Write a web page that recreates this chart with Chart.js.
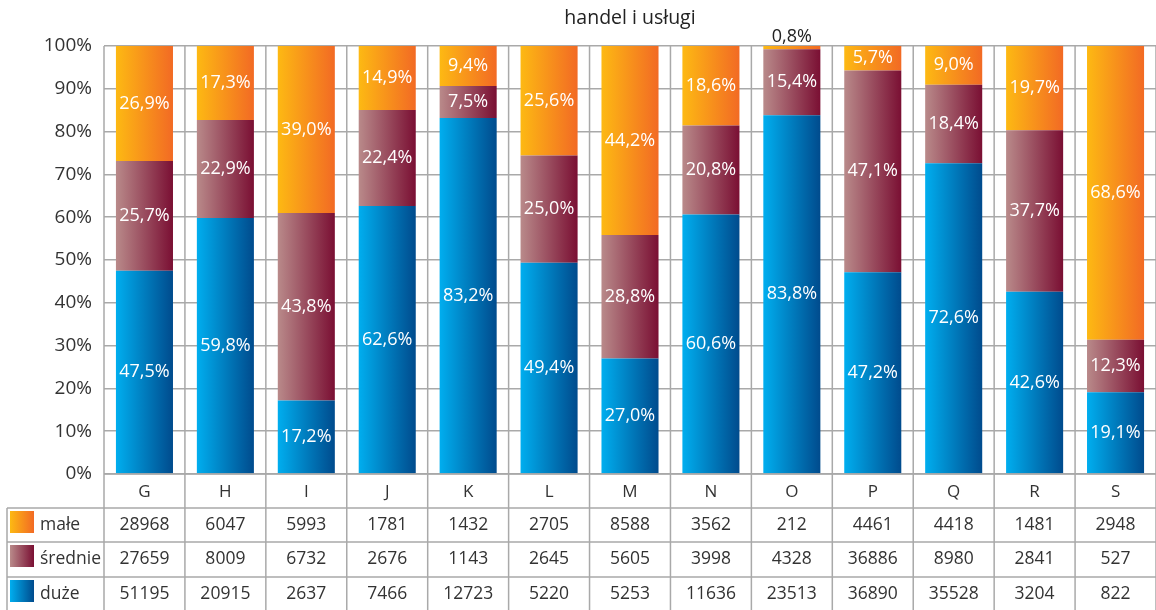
<!DOCTYPE html>
<html>
<head>
<meta charset="utf-8">
<script src="https://cdn.jsdelivr.net/npm/chart.js@4"></script>
<style>
    body { margin: 0; background: #fff; }
    #wrap { width: 1156px; height: 610px; overflow: hidden; }
</style>
</head>
<body>
<div id="wrap"><canvas id="chart" width="1156" height="610"></canvas></div>
<script>
// data
const categories = ['G', 'H', 'I', 'J', 'K', 'L', 'M', 'N', 'O', 'P', 'Q', 'R', 'S'];
const male = [28968, 6047, 5993, 1781, 1432, 2705, 8588, 3562, 212, 4461, 4418, 1481, 2948];
const srednie = [27659, 8009, 6732, 2676, 1143, 2645, 5605, 3998, 4328, 36886, 8980, 2841, 527];
const duze = [51195, 20915, 2637, 7466, 12723, 5220, 5253, 11636, 23513, 36890, 35528, 3204, 822];
const yTicks = [0, 10, 20, 30, 40, 50, 60, 70, 80, 90, 100];
const title = 'handel i usługi';

const FONT = '"Open Sans", "Noto Sans", sans-serif';
const LINE = '#a9a9a9';

const colors = {
    male: ['#fdb913', '#f26a24'],
    srednie: ['#b98a8a', '#7a0f33'],
    duze: ['#00aeef', '#004b8d']
};

const totals = categories.map((c, i) => male[i] + srednie[i] + duze[i]);
const pct = arr => arr.map((v, i) => v / totals[i] * 100);

function fmt(v) {
    return v.toFixed(1).replace('.', ',') + '%';
}

function barGradient(context, pair) {
    const chart = context.chart;
    const xs = chart.scales.x;
    if (!chart.chartArea || !xs) return pair[0];
    const colW = xs.width / categories.length;
    const w = colW * 0.705;
    const cx = xs.getPixelForValue(context.dataIndex);
    const g = chart.ctx.createLinearGradient(cx - w / 2, 0, cx + w / 2, 0);
    g.addColorStop(0, pair[0]);
    g.addColorStop(1, pair[1]);
    return g;
}

const rows = [
    { label: 'małe', values: male, colors: colors.male },
    { label: 'średnie', values: srednie, colors: colors.srednie },
    { label: 'duże', values: duze, colors: colors.duze }
];

const tablePlugin = {
    id: 'tablePlugin',
    beforeDatasetsDraw(chart) {
        const { ctx, chartArea } = chart;
        const colW = (chartArea.right - chartArea.left) / categories.length;
        ctx.save();
        ctx.strokeStyle = LINE;
        ctx.lineWidth = 1.5;
        for (let i = 0; i <= categories.length; i++) {
            const x = chartArea.left + i * colW;
            ctx.beginPath();
            ctx.moveTo(x, chartArea.top);
            ctx.lineTo(x, 610);
            ctx.stroke();
        }
        ctx.restore();
    },
    afterDraw(chart) {
        const { ctx, chartArea } = chart;
        const xs = chart.scales.x;
        ctx.save();

        // title
        ctx.fillStyle = '#222';
        ctx.font = '19.5px ' + FONT;
        ctx.textAlign = 'center';
        ctx.textBaseline = 'middle';
        ctx.fillText(title, (chartArea.left + chartArea.right) / 2, 18);

        // table lines
        ctx.strokeStyle = LINE;
        ctx.lineWidth = 1.5;
        const rowY = [508, 542, 577];
        ctx.beginPath();
        ctx.moveTo(chartArea.left, chartArea.bottom);
        ctx.lineTo(chartArea.right, chartArea.bottom);
        ctx.stroke();
        rowY.forEach(y => {
            ctx.beginPath();
            ctx.moveTo(7, y);
            ctx.lineTo(chartArea.right, y);
            ctx.stroke();
        });
        ctx.beginPath();
        ctx.moveTo(7, rowY[0]);
        ctx.lineTo(7, 610);
        ctx.stroke();

        // categories
        ctx.fillStyle = '#333';
        ctx.font = '17px ' + FONT;
        categories.forEach((c, i) => {
            ctx.fillText(c, xs.getPixelForValue(i), 492);
        });

        // rows
        const centers = [525, 559, 594];
        ctx.font = '17.5px ' + FONT;
        rows.forEach((r, ri) => {
            const y = centers[ri];
            const g = ctx.createLinearGradient(10, 0, 34, 0);
            g.addColorStop(0, r.colors[0]);
            g.addColorStop(1, r.colors[1]);
            ctx.fillStyle = g;
            ctx.fillRect(10, rowY[ri] + 3, 24, 22);
            ctx.fillStyle = '#333';
            ctx.textAlign = 'left';
            ctx.fillText(r.label, 40, y);
            ctx.textAlign = 'center';
            r.values.forEach((v, i) => {
                ctx.fillText(String(v), xs.getPixelForValue(i), y);
            });
        });

        // segment labels
        ctx.font = '18px ' + FONT;
        chart.data.datasets.forEach((ds, di) => {
            const meta = chart.getDatasetMeta(di);
            meta.data.forEach((bar, i) => {
                const v = ds.data[i];
                const h = Math.abs(bar.base - bar.y);
                if (h < 14) {
                    ctx.fillStyle = '#222';
                    ctx.fillText(fmt(v), bar.x, Math.min(bar.y, bar.base) - 9);
                } else {
                    ctx.fillStyle = '#fff';
                    ctx.fillText(fmt(v), bar.x, (bar.y + bar.base) / 2);
                }
            });
        });
        ctx.restore();
    }
};

new Chart(document.getElementById('chart'), {
    type: 'bar',
    data: {
        labels: categories,
        datasets: [
            { label: 'duże', data: pct(duze), backgroundColor: c => barGradient(c, colors.duze) },
            { label: 'średnie', data: pct(srednie), backgroundColor: c => barGradient(c, colors.srednie) },
            { label: 'małe', data: pct(male), backgroundColor: c => barGradient(c, colors.male) }
        ]
    },
    options: {
        responsive: false,
        animation: false,
        layout: { padding: { top: 46, bottom: 136, left: 0, right: 0 } },
        datasets: {
            bar: { categoryPercentage: 1, barPercentage: 0.705, borderWidth: 0 }
        },
        plugins: {
            legend: { display: false },
            tooltip: { enabled: false },
            title: { display: false }
        },
        scales: {
            x: { stacked: true, display: false },
            y: {
                stacked: true,
                min: 0,
                max: 100,
                afterFit: s => { s.width = 104; },
                afterBuildTicks: s => { s.ticks = yTicks.map(v => ({ value: v })); },
                border: { display: false },
                grid: { color: LINE, lineWidth: 1.5, drawTicks: false },
                ticks: {
                    padding: 12,
                    color: '#333',
                    font: { family: FONT, size: 19 },
                    callback: v => v + '%'
                }
            }
        }
    },
    plugins: [tablePlugin]
});
</script>
</body>
</html>
